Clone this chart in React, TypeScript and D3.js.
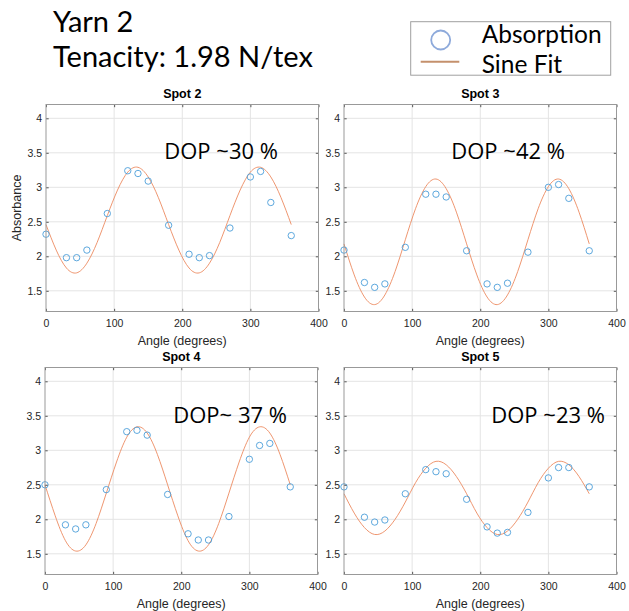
import React, { useEffect, useRef } from "react";
import * as d3 from "d3";

// measured angles (degrees)
const angles = [0, 30, 45, 60, 90, 120, 135, 150, 180, 210, 225, 240, 270, 300, 315, 330, 360];

// absorbance per spot
const spot2 = [2.32, 1.98, 1.98, 2.09, 2.62, 3.24, 3.2, 3.09, 2.45, 2.03, 1.98, 2.01, 2.41, 3.15, 3.23, 2.78, 2.3];
const spot3 = [2.09, 1.62, 1.55, 1.6, 2.13, 2.9, 2.9, 2.86, 2.08, 1.6, 1.55, 1.61, 2.06, 3.0, 3.04, 2.84, 2.08];
const spot4 = [2.5, 1.92, 1.86, 1.92, 2.43, 3.27, 3.29, 3.22, 2.36, 1.79, 1.7, 1.7, 2.04, 2.87, 3.07, 3.1, 2.47];
const spot5 = [2.47, 2.03, 1.96, 1.99, 2.37, 2.72, 2.69, 2.66, 2.29, 1.89, 1.8, 1.81, 2.1, 2.6, 2.75, 2.75, 2.47];

const fitAngles = [0, 15, 30, 45, 60, 75, 90, 105, 120, 135, 150, 165, 180, 195, 210, 225, 240, 255, 270, 285, 300, 315, 330, 345, 360];
const fit2 = [2.46, 2.09, 1.83, 1.76, 1.9, 2.2, 2.59, 2.96, 3.22, 3.29, 3.15, 2.85, 2.46, 2.09, 1.83, 1.76, 1.9, 2.2, 2.59, 2.96, 3.22, 3.29, 3.15, 2.85, 2.46];
const fit3 = [2.18, 1.73, 1.41, 1.3, 1.44, 1.78, 2.24, 2.69, 3.01, 3.12, 2.98, 2.64, 2.18, 1.73, 1.41, 1.3, 1.44, 1.78, 2.24, 2.69, 3.01, 3.12, 2.98, 2.64, 2.18];
const fit4 = [2.5, 2.05, 1.69, 1.54, 1.63, 1.94, 2.38, 2.83, 3.19, 3.34, 3.25, 2.94, 2.5, 2.05, 1.69, 1.54, 1.63, 1.94, 2.38, 2.83, 3.19, 3.34, 3.25, 2.94, 2.5];
const fit5 = [2.37, 2.09, 1.88, 1.78, 1.83, 2.0, 2.25, 2.53, 2.74, 2.84, 2.79, 2.62, 2.37, 2.09, 1.88, 1.78, 1.83, 2.0, 2.25, 2.53, 2.74, 2.84, 2.79, 2.62, 2.37];

const spotNames = ["Spot 2", "Spot 3", "Spot 4", "Spot 5"];
const dopLabels = ["DOP ~30 %", "DOP ~42 %", "DOP~ 37 %", "DOP ~23 %"];
const xTicks = [0, 100, 200, 300, 400];
const yTicks = [1.5, 2, 2.5, 3, 3.5, 4];

const spots = [spot2, spot3, spot4, spot5];
const fits = [fit2, fit3, fit4, fit5];

// layout
const panelPos = [
  { left: 46, top: 104.5, dopX: 118.3, dopY: 54.8 },
  { left: 344, top: 104.5, dopX: 107.3, dopY: 54.8 },
  { left: 45, top: 367.5, dopX: 128.3, dopY: 55.2 },
  { left: 344, top: 367.5, dopX: 147.3, dopY: 55.2 }
];
const W = 272.5;
const H = 207;
const axisFont = "'Liberation Sans', Arial, sans-serif";
const textFont = "Lato, 'Open Sans', sans-serif";

function drawChart(el: SVGSVGElement) {
  const svg = d3.select(el);
  svg.selectAll("*").remove();

  svg.append("rect").attr("width", 629).attr("height", 611).attr("fill", "#fff");

  svg.append("text")
    .attr("x", 53).attr("y", 31.7)
    .style("font-family", textFont).style("font-size", "29px")
    .text("Yarn 2");
  svg.append("text")
    .attr("x", 53).attr("y", 66.7)
    .style("font-family", textFont).style("font-size", "29px")
    .text("Tenacity: 1.98 N/tex");

  // legend
  const leg = svg.append("g");
  leg.append("rect")
    .attr("x", 410.7).attr("y", 21.7).attr("width", 200).attr("height", 53.5)
    .attr("fill", "#fff").attr("stroke", "#a0a0a0").attr("stroke-width", 1);
  leg.append("circle")
    .attr("cx", 440.7).attr("cy", 40).attr("r", 9.5)
    .attr("fill", "none").attr("stroke", "#8eaadb").attr("stroke-width", 1.8);
  leg.append("line")
    .attr("x1", 420.7).attr("x2", 459.3).attr("y1", 61.7).attr("y2", 61.7)
    .attr("stroke", "#c4906c").attr("stroke-width", 2);
  leg.append("text")
    .attr("x", 481.7).attr("y", 43.3)
    .style("font-family", textFont).style("font-size", "24.5px")
    .text("Absorption");
  leg.append("text")
    .attr("x", 481.7).attr("y", 72.5)
    .style("font-family", textFont).style("font-size", "24.5px")
    .text("Sine Fit");

  const x = d3.scaleLinear().domain([0, 400]).range([0, W]);
  const y = d3.scaleLinear().domain([1.2, 4.2]).range([H, 0]);

  spotNames.forEach((name, i) => {
    const p = panelPos[i];
    const g = svg.append("g").attr("transform", `translate(${p.left},${p.top})`);

    g.append("rect").attr("width", W).attr("height", H).attr("fill", "#fff");

    // grid
    g.selectAll(".gx").data(xTicks.slice(1, -1)).enter().append("line")
      .attr("x1", d => x(d)).attr("x2", d => x(d))
      .attr("y1", 0).attr("y2", H)
      .attr("stroke", "#e4e4e4").attr("stroke-width", 1);
    g.selectAll(".gy").data(yTicks).enter().append("line")
      .attr("x1", 0).attr("x2", W)
      .attr("y1", d => y(d)).attr("y2", d => y(d))
      .attr("stroke", "#e4e4e4").attr("stroke-width", 1);

    // sine fit
    const line = d3.line<number>()
      .x((d, j) => x(fitAngles[j]))
      .y(d => y(d))
      .curve(d3.curveNatural);
    g.append("path")
      .attr("d", line(fits[i]))
      .attr("fill", "none")
      .attr("stroke", "#ec8a60")
      .attr("stroke-width", 0.9);

    // absorption points
    g.selectAll(".pt").data(spots[i]).enter().append("circle")
      .attr("cx", (d, j) => x(angles[j]))
      .attr("cy", d => y(d))
      .attr("r", 3.2)
      .attr("fill", "none")
      .attr("stroke", "#4c9ed9")
      .attr("stroke-width", 0.9);

    // axes
    const tickLen = -2.7;
    const xa = g.append("g").attr("transform", `translate(0,${H})`)
      .call(d3.axisBottom(x).tickValues(xTicks).tickSizeInner(tickLen).tickSizeOuter(0).tickPadding(8.5).tickFormat(d => String(d)));
    const ya = g.append("g")
      .call(d3.axisLeft(y).tickValues(yTicks).tickSizeInner(tickLen).tickSizeOuter(0).tickPadding(4).tickFormat(d => String(d)));
    const xt = g.append("g")
      .call(d3.axisTop(x).tickValues(xTicks).tickSizeInner(tickLen).tickSizeOuter(0).tickFormat(() => ""));
    const yr = g.append("g").attr("transform", `translate(${W},0)`)
      .call(d3.axisRight(y).tickValues(yTicks).tickSizeInner(tickLen).tickSizeOuter(0).tickFormat(() => ""));
    [xa, ya, xt, yr].forEach(a => {
      a.select(".domain").remove();
      a.selectAll("line").attr("stroke", "#555");
      a.selectAll("text")
        .attr("fill", "#262626")
        .style("font-family", axisFont)
        .style("font-size", "10.5px");
    });

    g.append("rect").attr("width", W).attr("height", H)
      .attr("fill", "none").attr("stroke", "#999").attr("stroke-width", 1);

    g.append("text")
      .attr("x", W / 2).attr("y", -6.8)
      .attr("text-anchor", "middle")
      .style("font-family", axisFont).style("font-size", "12.5px").style("font-weight", "bold")
      .text(name);

    g.append("text")
      .attr("x", W / 2).attr("y", H + 33)
      .attr("text-anchor", "middle")
      .attr("fill", "#262626")
      .style("font-family", axisFont).style("font-size", "12.5px")
      .text("Angle (degrees)");

    if (i === 0) {
      g.append("text")
        .attr("transform", `translate(${20.7 - p.left},${H / 2}) rotate(-90)`)
        .attr("text-anchor", "middle")
        .attr("fill", "#262626")
        .style("font-family", axisFont).style("font-size", "12.5px")
        .text("Absorbance");
    }

    g.append("text")
      .attr("x", p.dopX).attr("y", p.dopY)
      .style("font-family", "'Open Sans', sans-serif").style("font-size", "22px")
      .text(dopLabels[i]);
  });
}

const App = () => {
  const ref = useRef<SVGSVGElement>(null);

  useEffect(() => {
    if (ref.current) drawChart(ref.current);
  });

  return (
    <svg ref={ref} width={629} height={611}
      style={{ position: "absolute", left: 0, top: 0, display: "block" }} />
  );
};

export default App;
